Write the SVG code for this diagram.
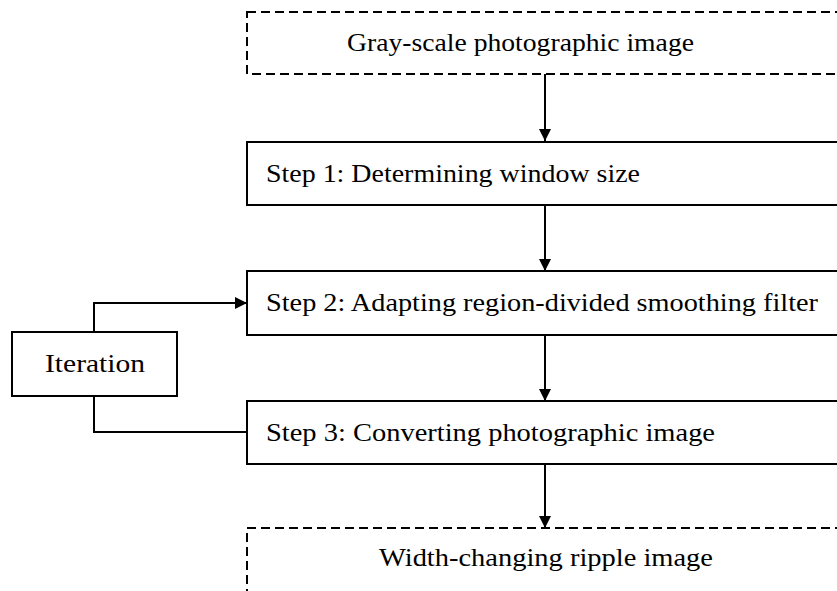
<svg xmlns="http://www.w3.org/2000/svg" width="837" height="591" viewBox="0 0 837 591">
<defs>
<style>
.box{fill:#fff;stroke:#000;stroke-width:2}
.dash{fill:#fff;stroke:#000;stroke-width:2;stroke-dasharray:9 5}
.lbl{font-family:'Liberation Serif','Times New Roman',serif;font-size:25px;fill:#000}
.con{fill:none;stroke:#000;stroke-width:2}
</style>
<marker id="ah" markerWidth="12" markerHeight="12" refX="12" refY="6" orient="auto" markerUnits="userSpaceOnUse">
<path d="M0,0 L12,6 L0,12 Z" fill="#000"/>
</marker>
</defs>
<g id="connectors">
<line class="con" x1="545" y1="74" x2="545" y2="141" marker-end="url(#ah)"/>
<line class="con" x1="545" y1="205" x2="545" y2="271" marker-end="url(#ah)"/>
<line class="con" x1="545" y1="335" x2="545" y2="401" marker-end="url(#ah)"/>
<line class="con" x1="545" y1="464" x2="545" y2="528" marker-end="url(#ah)"/>
<polyline class="con" points="94,332 94,303 247,303" marker-end="url(#ah)"/>
<polyline class="con" points="94,396 94,432 247,432"/>
</g>
<g id="gray">
<rect class="dash" x="247" y="12" width="620" height="62"/>
<text class="lbl" x="347" y="51" textLength="347" lengthAdjust="spacingAndGlyphs">Gray-scale photographic image</text>
</g>
<g id="step1">
<rect class="box" x="247" y="142" width="620" height="63"/>
<text class="lbl" x="266" y="182" textLength="374" lengthAdjust="spacingAndGlyphs">Step 1: Determining window size</text>
</g>
<g id="step2">
<rect class="box" x="247" y="271" width="620" height="64"/>
<text class="lbl" x="266" y="311" textLength="552" lengthAdjust="spacingAndGlyphs">Step 2: Adapting region-divided smoothing filter</text>
</g>
<g id="step3">
<rect class="box" x="247" y="401" width="620" height="63"/>
<text class="lbl" x="266" y="441" textLength="449" lengthAdjust="spacingAndGlyphs">Step 3: Converting photographic image</text>
</g>
<g id="iteration">
<rect class="box" x="12" y="332" width="165" height="64"/>
<text class="lbl" x="45" y="372" textLength="100" lengthAdjust="spacingAndGlyphs">Iteration</text>
</g>
<g id="ripple">
<rect class="dash" x="247" y="528" width="620" height="80"/>
<text class="lbl" x="379" y="566" textLength="334" lengthAdjust="spacingAndGlyphs">Width-changing ripple image</text>
</g>
</svg>
